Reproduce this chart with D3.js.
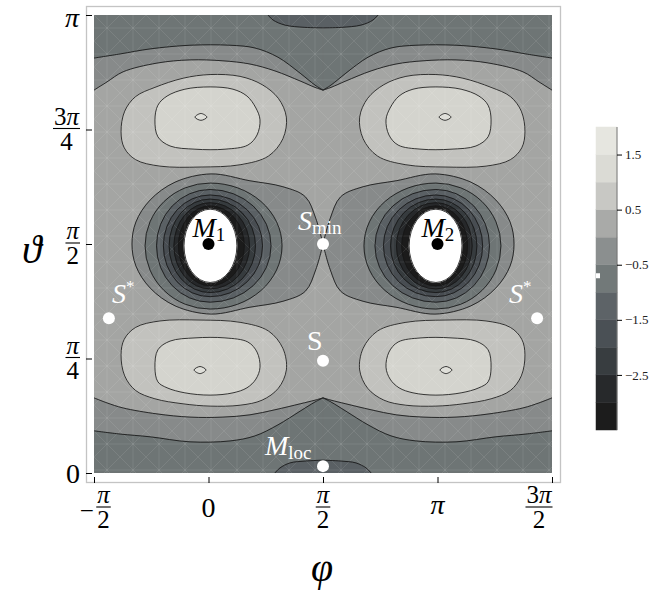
<!DOCTYPE html>
<html>
<head>
<meta charset="utf-8">
<script src="https://cdn.jsdelivr.net/npm/d3@7"></script>
<style>
  body { margin: 0; background: #fff; }
  svg { display: block; font-family: "Liberation Serif", "Times New Roman", "DejaVu Serif", serif; }
</style>
</head>
<body>
<svg id="chart" width="655" height="594"></svg>
<script>
// legend bands (value edges, low to high) and their greys
const bandEdges = [-3.5, -3, -2.5, -2, -1.5, -1, -0.5, 0, 0.5, 1, 1.5, 2];
const bandColors = ['#1c1c1c', '#27292b', '#383d40', '#4a5055', '#5d6367', '#727979',
                    '#8b8f8f', '#a9aaa8', '#c8c8c4', '#dbdbd5', '#e6e6e0'];
const legendTicks = [1.5, 0.5, -0.5, -1.5, -2.5];
const legendMarker = -0.7;

// axes, in multiples of pi
const phiTicks = [-0.5, 0, 0.5, 1, 1.5];
const phiLabels = ['−π/2', '0', 'π/2', 'π', '3π/2'];
const thetaTicks = [0, 0.25, 0.5, 0.75, 1];
const thetaLabels = ['0', 'π/4', 'π/2', '3π/4', 'π'];

const topOuter = [[-0.5, 0.906], [-0.386, 0.915], [-0.255, 0.926], [-0.081, 0.934], [0.094, 0.934],
                  [0.203, 0.928], [0.303, 0.908], [0.400, 0.873], [0.465, 0.847], [0.5, 0.836]];
const topInner = [[-0.5, 0.836], [-0.443, 0.854], [-0.373, 0.876], [-0.225, 0.895], [-0.081, 0.902],
                  [0.063, 0.900], [0.181, 0.893], [0.290, 0.878], [0.400, 0.856], [0.465, 0.842], [0.5, 0.836]];
const topCap = [[0.260, 1.0], [0.282, 0.989], [0.334, 0.978], [0.421, 0.973], [0.5, 0.972]];
const bottomOuter = [[-0.5, 0.092], [-0.386, 0.085], [-0.255, 0.079], [-0.081, 0.068], [0.094, 0.070],
                     [0.203, 0.081], [0.303, 0.105], [0.400, 0.135], [0.465, 0.155], [0.5, 0.164]];
const bottomInner = [[-0.5, 0.164], [-0.443, 0.153], [-0.373, 0.142], [-0.225, 0.129], [-0.081, 0.122],
                     [0.063, 0.122], [0.181, 0.127], [0.290, 0.138], [0.400, 0.151], [0.465, 0.159], [0.5, 0.164]];
const bottomCap = [[0.290, 0.0], [0.312, 0.011], [0.356, 0.022], [0.421, 0.026], [0.5, 0.028]];

const hillOuterTop = [[-0.382, 0.745], [-0.366, 0.790], [-0.318, 0.822], [-0.234, 0.842], [-0.111, 0.862],
                      [0.007, 0.870], [0.138, 0.866], [0.234, 0.848], [0.305, 0.818], [0.340, 0.777],
                      [0.325, 0.730], [0.262, 0.692], [0.138, 0.673], [-0.037, 0.668], [-0.212, 0.670],
                      [-0.318, 0.684], [-0.368, 0.710]];
const hillInnerTop = [[-0.234, 0.771], [-0.221, 0.803], [-0.181, 0.823], [-0.103, 0.838], [0.007, 0.843],
                      [0.107, 0.838], [0.168, 0.823], [0.207, 0.797], [0.225, 0.771], [0.212, 0.738],
                      [0.172, 0.716], [0.072, 0.707], [-0.059, 0.707], [-0.168, 0.714], [-0.221, 0.734]];
const hillPeakTop = [[-0.059, 0.777], [-0.033, 0.785], [-0.007, 0.777], [-0.033, 0.770]];
const hillOuterBottom = [[-0.382, 0.258], [-0.366, 0.212], [-0.318, 0.180], [-0.234, 0.162], [-0.111, 0.151],
                         [0.007, 0.146], [0.138, 0.148], [0.234, 0.159], [0.305, 0.185], [0.340, 0.225],
                         [0.325, 0.272], [0.262, 0.310], [0.138, 0.329], [-0.037, 0.334], [-0.212, 0.332],
                         [-0.318, 0.318], [-0.368, 0.292]];
const hillInnerBottom = [[-0.234, 0.231], [-0.221, 0.199], [-0.181, 0.186], [-0.103, 0.175], [0.007, 0.170],
                         [0.107, 0.175], [0.168, 0.186], [0.207, 0.205], [0.225, 0.231], [0.212, 0.264],
                         [0.172, 0.286], [0.072, 0.295], [-0.059, 0.295], [-0.168, 0.288], [-0.221, 0.269]];
const hillPeakBottom = [[-0.063, 0.225], [-0.037, 0.2325], [-0.011, 0.225], [-0.037, 0.217]];

// outer contour of the well round M1, from S_min all the way round back to S_min
const wellOuter = [[0.5, 0.5], [0.469, 0.555], [0.423, 0.603], [0.325, 0.625], [0.181, 0.638],
                   [0.011, 0.653], [-0.146, 0.635], [-0.255, 0.596], [-0.317, 0.548], [-0.334, 0.5],
                   [-0.317, 0.452], [-0.255, 0.404], [-0.146, 0.365], [0.011, 0.347], [0.181, 0.362],
                   [0.325, 0.375], [0.423, 0.397], [0.469, 0.445], [0.5, 0.5]];
// nested rings inside it: extents left/right (phi) and top/bottom (theta); the last one is the cut-off hole
const wellCenter = [0.007, 0.496];
const ringLeft = [-0.277, -0.227, -0.197, -0.172, -0.151, -0.131, -0.107];
const ringRight = [0.321, 0.273, 0.236, 0.205, 0.179, 0.156, 0.124];
const ringTop = [0.633, 0.619, 0.607, 0.598, 0.590, 0.583, 0.576];
const ringBottom = [0.358, 0.373, 0.385, 0.394, 0.402, 0.409, 0.416];
const ringValues = [-0.75, -1.25, -1.75, -2.25, -2.75, -3.25, -3.75];

// stationary points
const pointNames = ['M1', 'M2', 'Smin', 'S', 'Mloc', 'S*', 'S*'];
const pointPhi = [0, 1, 0.5, 0.5, 0.5, -0.435, 1.435];
const pointTheta = [0.5, 0.5, 0.5, 0.245, 0.015, 0.338, 0.338];

const svg = d3.select('#chart');
const x = d3.scaleLinear().domain([-0.5, 1.5]).range([94, 552]);
const xm = d3.scaleLinear().domain([1.5, -0.5]).range([94, 552]); // mirror about phi = pi/2
const y = d3.scaleLinear().domain([0, 1]).range([473, 15]);
const legendFill = d3.scaleThreshold().domain(bandEdges).range(['#ffffff', ...bandColors, '#ffffff']);
// the plot's patches come out a shade darker than the legend swatches, under a light mesh
const fill = v => {
  const c = legendFill(v);
  return c === '#ffffff' ? c : d3.color(c).darker(0.09).formatHex();
};

const defs = svg.append('defs');
defs.append('clipPath').attr('id', 'plotClip')
  .append('rect').attr('x', 94).attr('y', 15).attr('width', 458).attr('height', 458);
const mesh = defs.append('pattern').attr('id', 'mesh').attr('patternUnits', 'userSpaceOnUse')
  .attr('x', 94).attr('y', 15).attr('width', 26).attr('height', 26);
mesh.append('path').attr('d', 'M0,0L26,26M26,0L0,26M13,0V26M0,13H26')
  .attr('stroke', '#fff').attr('stroke-opacity', 0.11).attr('stroke-width', 0.8).attr('fill', 'none');

const plot = svg.append('g').attr('clip-path', 'url(#plotClip)');
const fills = plot.append('g');
const texture = plot.append('g');
const lines = plot.append('g').attr('fill', 'none').attr('stroke', '#161616').attr('stroke-width', 0.85);

const lineFor = (sx, curve) => d3.line().x(d => sx(d[0])).y(d => y(d[1])).curve(curve);
const open = d3.curveCatmullRom.alpha(0.5);
const closed = d3.curveCatmullRomClosed.alpha(0.5);

function band(d, value) {
  fills.append('path').attr('d', d).attr('fill', fill(value))
    .attr('stroke', fill(value)).attr('stroke-width', 1);
}

// background band
band(`M${x(-0.5)},${y(0)}H${x(1.5)}V${y(1)}H${x(-0.5)}Z`, 0.25);

// edge regions, closed along the plot border
function edgeRegion(sx, pts, corners, value) {
  const tail = corners.map(c => `L${sx(c[0])},${y(c[1])}`).join('');
  band(lineFor(sx, open)(pts) + tail + 'Z', value);
  lines.append('path').attr('d', lineFor(sx, open)(pts));
}

function hill(sx, pts, value) {
  const d = lineFor(sx, closed)(pts);
  band(d, value);
  lines.append('path').attr('d', d);
}

function egg(sx, i) {
  const cx = sx(wellCenter[0]), cy = y(wellCenter[1]);
  const xr = sx(ringRight[i]), xl = sx(ringLeft[i]);
  const yt = y(ringTop[i]), yb = y(ringBottom[i]);
  const rr = Math.abs(xr - cx), rl = Math.abs(cx - xl), rt = cy - yt, rb = yb - cy;
  const s = sx === x ? 0 : 1;
  return `M${xr},${cy}A${rr},${rt} 0 0 ${s} ${cx},${yt}A${rl},${rt} 0 0 ${s} ${xl},${cy}` +
         `A${rl},${rb} 0 0 ${s} ${cx},${yb}A${rr},${rb} 0 0 ${s} ${xr},${cy}Z`;
}

// paint layer by layer, each layer on both halves, so the halves never cover each other
const layers = [
  sx => edgeRegion(sx, topInner, [[0.5, 1], [-0.5, 1]], -0.25),
  sx => edgeRegion(sx, bottomInner, [[0.5, 0], [-0.5, 0]], -0.25),
  sx => edgeRegion(sx, topOuter, [[0.5, 1], [-0.5, 1]], -0.75),
  sx => edgeRegion(sx, bottomOuter, [[0.5, 0], [-0.5, 0]], -0.75),
  sx => edgeRegion(sx, topCap, [[0.5, 1]], -1.25),
  sx => edgeRegion(sx, bottomCap, [[0.5, 0]], -1.25),
  sx => { hill(sx, hillOuterTop, 0.75); hill(sx, hillOuterBottom, 0.75); },
  sx => { hill(sx, hillInnerTop, 1.25); hill(sx, hillInnerBottom, 1.25); },
  sx => { hill(sx, hillPeakTop, 1.75); hill(sx, hillPeakBottom, 1.75); },
  sx => {
    const w = lineFor(sx, open)(wellOuter);
    band(w + 'Z', -0.25);
    lines.append('path').attr('d', w);
  },
  ...ringValues.map((v, i) => sx => {
    const d = egg(sx, i);
    band(d, v);
    lines.append('path').attr('d', d);
  })
];
layers.forEach(layer => [x, xm].forEach(layer));

// light mesh over the shaded field, kept off the cut-off holes
texture.append('rect').attr('x', 94).attr('y', 15).attr('width', 458).attr('height', 458)
  .attr('fill', 'url(#mesh)');
[x, xm].forEach(sx => texture.append('path').attr('d', egg(sx, ringValues.length - 1)).attr('fill', '#fff'));

// frame and ticks
svg.append('rect').attr('x', 86.5).attr('y', 6.5).attr('width', 474).attr('height', 476)
  .attr('fill', 'none').attr('stroke', '#c4c4c4').attr('stroke-width', 1.3);

svg.append('g').attr('transform', 'translate(92,0)')
  .call(d3.axisLeft(y).tickValues(thetaTicks).tickSize(6).tickFormat(''))
  .call(g => g.select('.domain').remove());
svg.append('g').attr('transform', 'translate(0,477)')
  .call(d3.axisBottom(x).tickValues(phiTicks).tickSize(6).tickFormat(''))
  .call(g => g.select('.domain').remove());

function mathText(t, str, size) {
  [...str].forEach(ch => {
    t.append('tspan').attr('font-size', size)
      .attr('font-style', /[πϑφ]/.test(ch) ? 'italic' : 'normal').text(ch);
  });
}

function fraction(g, num, den, cx, barY, rightEdge) {
  const tn = g.append('text').attr('text-anchor', 'middle').attr('y', barY - 4);
  mathText(tn, num, 25);
  const w = tn.node().getComputedTextLength();
  const fx = rightEdge ? cx - w / 2 : cx;
  tn.attr('x', fx);
  const td = g.append('text').attr('text-anchor', 'middle').attr('x', fx).attr('y', barY + 21);
  mathText(td, den, 25);
  g.append('line').attr('x1', fx - w / 2 - 1).attr('x2', fx + w / 2 + 1)
    .attr('y1', barY).attr('y2', barY).attr('stroke', '#000').attr('stroke-width', 1.1);
  return w;
}

const labels = svg.append('g').attr('fill', '#000');

// theta labels, right-aligned against the ticks
thetaTicks.forEach((v, i) => {
  const lab = thetaLabels[i], ty = y(v);
  if (lab.includes('/')) {
    const [num, den] = lab.split('/');
    fraction(labels, num, den, 79, ty - 1, true);
  } else {
    const t = labels.append('text').attr('text-anchor', 'end')
      .attr('x', lab === '0' ? 80 : 79).attr('y', ty + (lab === 'π' ? 12 : 10));
    mathText(t, lab, 28);
  }
});

// phi labels, centred under the ticks
const barY = 507;
phiTicks.forEach((v, i) => {
  const lab = phiLabels[i];
  let cx = x(v);
  if (i === phiTicks.length - 1) cx -= 13;
  const neg = lab[0] === '−';
  const body = neg ? lab.slice(1) : lab;
  if (body.includes('/')) {
    const [num, den] = body.split('/');
    if (neg) {
      const probe = labels.append('text');
      mathText(probe, num, 25);
      const w = probe.node().getComputedTextLength();
      probe.remove();
      const left = cx - (17 + w) / 2 + 1;
      labels.append('text').attr('x', left + 6.5).attr('y', barY + 12)
        .attr('text-anchor', 'middle').attr('font-size', 25).text('−');
      fraction(labels, num, den, left + 17 + w / 2, barY, false);
    } else {
      fraction(labels, num, den, cx, barY, false);
    }
  } else {
    const t = labels.append('text').attr('text-anchor', 'middle').attr('x', cx)
      .attr('y', barY + (body === 'π' ? 7 : 10));
    mathText(t, body, 28);
  }
});

// axis titles
svg.append('text').attr('x', 22).attr('y', 263).attr('font-size', 40)
  .attr('font-style', 'italic').text('ϑ');
svg.append('text').attr('x', 322).attr('y', 581).attr('font-size', 40)
  .attr('text-anchor', 'middle').attr('font-style', 'italic').text('φ');

// stationary points and their names
const labelStyle = {
  M1:   { dx: -16, dy: -7,  main: 'M', italic: true,  sub: '1',   color: '#000' },
  M2:   { dx: -16, dy: -7,  main: 'M', italic: true,  sub: '2',   color: '#000' },
  Smin: { dx: -25, dy: -14, main: 'S', italic: true,  sub: 'min', color: '#fff' },
  S:    { dx: -16, dy: -11, main: 'S', italic: false, sub: '',    color: '#fff' },
  Mloc: { dx: -58, dy: -11, main: 'M', italic: true,  sub: 'loc', color: '#fff' }
};
const marks = svg.append('g');
pointNames.forEach((name, i) => {
  const px = x(pointPhi[i]), py = y(pointTheta[i]);
  const dark = name === 'M1' || name === 'M2';
  marks.append('circle').attr('cx', px).attr('cy', py).attr('r', 6)
    .attr('fill', dark ? '#000' : '#fff');
  let st = labelStyle[name];
  if (name === 'S*') {
    st = { dx: pointPhi[i] < 0.5 ? 3 : -28, dy: -15, main: 'S', italic: true, sup: '*', color: '#fff' };
  }
  const t = marks.append('text').attr('x', px + st.dx).attr('y', py + st.dy).attr('fill', st.color);
  t.append('tspan').attr('font-size', 28).attr('font-style', st.italic ? 'italic' : 'normal').text(st.main);
  if (st.sub) t.append('tspan').attr('font-size', 19).attr('dy', 4).text(st.sub);
  if (st.sup) t.append('tspan').attr('font-size', 17).attr('dy', -11).text(st.sup);
});

// legend bar
const cb = d3.scaleLinear().domain([-3.5, 2]).range([430, 127]);
const legend = svg.append('g');
legend.selectAll('rect.band').data(bandColors).join('rect').attr('class', 'band')
  .attr('x', 596).attr('width', 21)
  .attr('y', (d, i) => cb(bandEdges[i + 1]))
  .attr('height', (d, i) => cb(bandEdges[i]) - cb(bandEdges[i + 1]))
  .attr('fill', d => d).attr('stroke', d => d).attr('stroke-width', 0.5);
legend.append('line').attr('x1', 617).attr('x2', 617).attr('y1', cb(2)).attr('y2', cb(-3.5))
  .attr('stroke', '#777').attr('stroke-width', 1);
legend.append('rect').attr('x', 596).attr('y', cb(legendMarker) - 2.5).attr('width', 4).attr('height', 5)
  .attr('fill', '#fff');
legend.append('g').attr('transform', 'translate(617,0)')
  .call(d3.axisRight(cb).tickValues(legendTicks).tickSize(5).tickPadding(3).tickFormat(d3.format('.1f')))
  .call(g => g.select('.domain').remove())
  .call(g => g.selectAll('text').attr('font-family', null).attr('font-size', 13).attr('fill', '#222'))
  .attr('font-family', null);
</script>
</body>
</html>
